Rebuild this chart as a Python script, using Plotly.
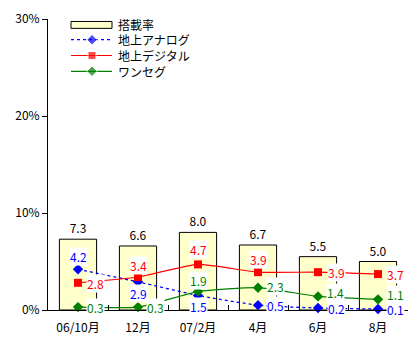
import plotly.graph_objects as go

categories = ["06/10月", "12月", "07/2月", "4月", "6月", "8月"]
rate = [7.3, 6.6, 8.0, 6.7, 5.5, 5.0]
analog = [4.2, 2.9, 1.5, 0.5, 0.2, 0.1]
digital = [2.8, 3.4, 4.7, 3.9, 3.9, 3.7]
oneseg = [0.3, 0.3, 1.9, 2.3, 1.4, 1.1]
yticks = [0, 10, 20, 30]
ytick_text = ["0%", "10%", "20%", "30%"]
legend_names = ["搭載率", "地上アナログ", "地上デジタル", "ワンセグ"]

FONT = "Noto Sans CJK JP"
W, H = 417, 354
ML, MR, MT, MB = 48, 9, 15, 44
PW, PH = W - ML - MR, H - MT - MB

fig = go.Figure()
fig.add_trace(go.Bar(
    x=categories, y=rate, name=legend_names[0],
    marker=dict(color="#FFFFCC", line=dict(color="black", width=1)),
    width=0.62,
    text=[f"{v:.1f}" for v in rate], textposition="outside",
    textfont=dict(color="black", size=12, family=FONT), cliponaxis=False,
    showlegend=False,
))
series = [
    (legend_names[1], analog, "#0000FF", "dot", "diamond", 8, 1.3),
    (legend_names[2], digital, "#FF0000", "solid", "square", 8, 1.2),
    (legend_names[3], oneseg, "#008000", "solid", "diamond", 8, 1.2),
]
for name, vals, col, dash, sym, sz, lw in series:
    fig.add_trace(go.Scatter(
        x=categories, y=vals, name=name, mode="lines+markers",
        line=dict(color=col, width=lw, dash=dash, shape="spline", smoothing=0.5),
        marker=dict(symbol=sym, size=sz, color=col),
        cliponaxis=False, showlegend=False,
    ))

# label offsets (pixels) per series/point
offsets = {
    "地上アナログ": [(0, 13), (0, -12), (0, -11), (17, 0), (18, 0), (17, 0)],
    "地上デジタル": [(17, -1), (0, 12), (0, 15), (0, 13), (18, 0), (17, 0)],
    "ワンセグ": [(17, 0), (17, 0), (0, 11), (17, 1), (17, 4), (17, 5)],
}
for name, vals, col, dash, sym, sz, lw in series:
    for i, (c, v) in enumerate(zip(categories, vals)):
        dx, dy = offsets[name][i]
        fig.add_annotation(
            x=c, y=v, text=f"{v:.1f}", showarrow=False,
            xshift=dx, yshift=dy, bgcolor="white", borderpad=0,
            font=dict(color=col, size=12, family=FONT),
        )

# ---- manual legend (pixel positions mapped onto an overlay axis) ----
def px(x):
    return x
leg_rows = [21, 36, 52, 68]
fig.add_shape(type="rect", xref="x2", yref="y2", x0=71, x1=112, y0=17.5, y1=24.5,
              fillcolor="#FFFFCC", line=dict(color="black", width=1))
for (name, vals, col, dash, sym, sz, lw), yy in zip(series, leg_rows[1:]):
    fig.add_trace(go.Scatter(
        x=[71, 92, 112], y=[yy, yy, yy], mode="lines+markers", xaxis="x2", yaxis="y2",
        line=dict(color=col, width=lw, dash=dash),
        marker=dict(symbol=sym, size=[0, sz, 0], color=col),
        showlegend=False, hoverinfo="skip",
    ))
for name, yy in zip(legend_names, leg_rows):
    fig.add_annotation(x=116, y=yy, xref="x2", yref="y2", text=name, showarrow=False,
                       xanchor="left", yanchor="middle",
                       font=dict(size=12, family=FONT, color="black"))

fig.update_layout(
    width=W, height=H,
    margin=dict(l=ML, r=MR, t=MT, b=MB),
    paper_bgcolor="white", plot_bgcolor="white",
    font=dict(family=FONT, size=12, color="black"),
    showlegend=False,
    xaxis=dict(
        type="category", showline=True, linecolor="black", linewidth=1,
        ticks="inside", tickson="boundaries", ticklen=5, tickcolor="black",
        showgrid=False, tickfont=dict(size=12, family=FONT), ticklabelstandoff=7,
    ),
    yaxis=dict(
        range=[0, 30], tickvals=yticks, ticktext=ytick_text,
        showline=True, linecolor="black", linewidth=1,
        ticks="outside", ticklen=5, tickcolor="black", showgrid=False,
        zeroline=False, tickfont=dict(size=12, family=FONT),
    ),
    xaxis2=dict(overlaying="x", range=[ML, W - MR], visible=False, anchor="y2"),
    yaxis2=dict(overlaying="y", range=[H - MB, MT], visible=False, anchor="x2"),
)

fig.write_html("out.html")
